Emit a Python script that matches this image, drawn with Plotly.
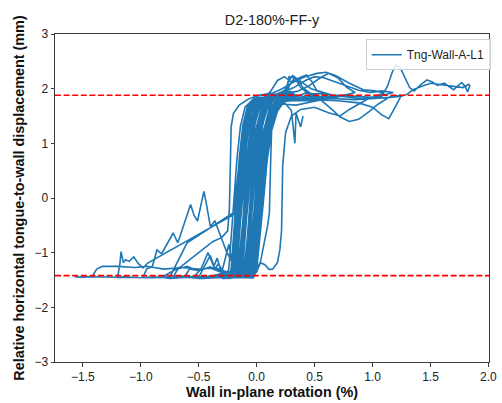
import plotly.graph_objects as go

# ---- data: wall in-plane rotation (%) vs relative tongue-to-wall displacement (mm) ----
seg_core_small = [
    (-0.05,-0.30),(-0.03,-0.90),(-0.05,-1.45),
    # c1
    (-0.02,-1.30),(0.01,-0.70),(0.04,0.0),(0.07,0.70),(0.11,1.25),(0.16,1.60),(0.23,1.80),(0.28,1.87),
    (0.12,1.82),(0.04,1.65),(0.0,1.30),(-0.03,0.70),(-0.055,0.0),(-0.08,-0.70),(-0.10,-1.30),(-0.13,-1.45),(-0.22,-1.46),(-0.28,-1.44),
    # c2
    (-0.03,-1.46),(0.0,-1.32),(0.03,-0.72),(0.06,-0.02),(0.09,0.68),(0.13,1.24),(0.18,1.59),(0.25,1.80),(0.30,1.86),
    (0.04,1.83),(-0.04,1.66),(-0.08,1.31),(-0.11,0.71),(-0.135,0.01),(-0.16,-0.69),(-0.18,-1.31),(-0.21,-1.45),(-0.27,-1.47),(-0.31,-1.45),
    # c3
    (-0.08,-1.44),(-0.05,-1.31),(-0.02,-0.71),(0.01,0.01),(0.04,0.71),(0.08,1.26),(0.13,1.61),(0.20,1.82),(0.25,1.92),(0.29,1.88),
    (0.16,1.83),(0.08,1.64),(0.04,1.29),(0.01,0.69),(-0.015,-0.01),(-0.04,-0.71),(-0.06,-1.31),(-0.09,-1.45),(-0.30,-1.46),(-0.36,-1.44),
    # c4
    (-0.045,-1.45),(-0.015,-1.33),(0.015,-0.73),(0.045,-0.03),(0.075,0.67),(0.115,1.23),(0.165,1.58),(0.235,1.80),(0.32,1.89),(0.35,1.86),
    (0.0,1.84),(-0.08,1.67),(-0.12,1.32),(-0.15,0.72),(-0.175,0.02),(-0.20,-0.68),(-0.22,-1.30),(-0.25,-1.46),(-0.30,-1.47),
    # c5
    (-0.12,-1.45),(-0.09,-1.31),(-0.06,-0.71),(-0.03,0.01),(0.0,0.71),(0.04,1.26),(0.09,1.62),(0.16,1.83),(0.22,1.95),(0.31,1.90),
    (0.10,1.82),(0.02,1.65),(-0.02,1.29),(-0.05,0.70),(-0.075,0.0),(-0.10,-0.70),(-0.12,-1.30),(-0.15,-1.44),(-0.32,-1.46),(-0.39,-1.44),
    # c6
    (-0.16,-1.43),(-0.13,-1.30),(-0.10,-0.69),(-0.07,0.01),(-0.04,0.72),(0.0,1.27),(0.05,1.62),(0.12,1.83),(0.20,1.90),(0.27,1.87),
    (0.19,1.82),(0.11,1.65),(0.07,1.30),(0.04,0.71),(0.015,0.01),(-0.01,-0.69),(-0.03,-1.31),(-0.06,-1.45),(-0.27,-1.46),(-0.34,-1.44),
    # c7
    (-0.06,-1.45),(-0.03,-1.33),(0.0,-0.73),(0.03,-0.02),(0.06,0.68),(0.10,1.24),(0.15,1.59),(0.22,1.80),(0.31,1.87),(0.37,1.86),
    (0.07,1.83),(-0.01,1.66),(-0.05,1.31),(-0.08,0.70),(-0.105,0.0),(-0.13,-0.70),(-0.15,-1.32),(-0.18,-1.45),(-0.24,-1.47),(-0.29,-1.45),
    # c8
    (-0.19,-1.44),(-0.16,-1.31),(-0.13,-0.70),(-0.10,0.0),(-0.07,0.70),(-0.03,1.25),(0.02,1.61),(0.09,1.82),(0.20,1.93),(0.30,1.90),
    (0.14,1.81),(0.06,1.64),(0.02,1.29),(-0.01,0.69),(-0.035,-0.01),(-0.06,-0.71),(-0.08,-1.31),(-0.11,-1.45),(-0.34,-1.45),(-0.42,-1.43),
    # c15
    (-0.09,-1.45),(-0.06,-1.31),(-0.03,-0.71),(0.0,0.0),(0.03,0.70),(0.07,1.25),(0.12,1.60),(0.19,1.81),(0.26,1.88),
    (0.09,1.82),(0.01,1.65),(-0.03,1.30),(-0.06,0.70),(-0.085,0.0),(-0.11,-0.70),(-0.13,-1.31),(-0.16,-1.45),(-0.25,-1.44),
    # c16
    (-0.21,-1.45),(-0.18,-1.31),(-0.15,-0.70),(-0.12,0.0),(-0.09,0.70),(-0.05,1.25),(0.0,1.60),(0.07,1.81),(0.15,1.88),(0.24,1.85),
    (0.21,1.83),(0.13,1.65),(0.09,1.30),(0.06,0.70),(0.035,0.0),(0.01,-0.70),(-0.01,-1.31),(-0.04,-1.45),(-0.20,-1.46),(-0.28,-1.44),
    # c17
    (-0.13,-1.45),(-0.10,-1.31),(-0.07,-0.70),(-0.04,0.0),(-0.01,0.70),(0.03,1.25),(0.08,1.60),(0.15,1.81),(0.24,1.87),
    (0.02,1.82),(-0.06,1.65),(-0.10,1.30),(-0.13,0.70),(-0.155,0.0),(-0.18,-0.70),(-0.20,-1.31),(-0.23,-1.45),(-0.30,-1.44),
    # c18
    (-0.055,-1.45),(-0.025,-1.31),(0.005,-0.70),(0.035,0.0),(0.065,0.70),(0.105,1.25),(0.155,1.60),(0.225,1.81),(0.33,1.86),
    (0.08,1.82),(0.0,1.65),(-0.04,1.30),(-0.07,0.70),(-0.095,0.0),(-0.12,-0.70),(-0.14,-1.31),(-0.17,-1.45),(-0.26,-1.46),
]

seg_core_medium = [
    # c9
    (-0.10,-1.45),(-0.07,-1.32),(-0.04,-0.72),(-0.01,-0.01),(0.02,0.69),(0.06,1.24),(0.11,1.60),(0.18,1.82),
    (0.25,2.0),(0.28,2.15),(0.31,2.24),(0.35,2.18),(0.40,2.02),(0.46,1.92),(0.52,1.88),(0.42,1.84),(0.30,1.82),
    (-0.02,1.83),(-0.10,1.66),(-0.14,1.31),(-0.17,0.71),(-0.195,0.01),(-0.22,-0.69),(-0.24,-1.30),(-0.27,-1.43),
    (-0.33,-1.20),(-0.36,-1.30),(-0.40,-1.05),(-0.45,-1.25),(-0.50,-1.45),(-0.55,-1.44),
    # c10
    (-0.45,-1.47),(-0.30,-1.38),(-0.20,-1.45),(-0.14,-1.45),
    (-0.11,-1.33),(-0.08,-0.73),(-0.05,-0.02),(-0.02,0.68),(0.02,1.24),(0.07,1.59),(0.14,1.81),
    (0.22,1.92),(0.29,1.95),(0.35,1.86),(0.42,1.92),(0.50,1.87),(0.57,1.85),(0.45,1.79),(0.30,1.80),
    (0.03,1.82),(-0.05,1.65),(-0.09,1.30),(-0.12,0.70),(-0.145,0.0),(-0.17,-0.70),(-0.19,-1.31),(-0.22,-1.44),
    (-0.32,-1.42),(-0.46,-1.46),(-0.56,-1.45),
    # c11
    (-0.42,-1.45),(-0.25,-1.43),(-0.04,-1.44),
    (-0.01,-1.30),(0.02,-0.70),(0.05,0.0),(0.08,0.70),(0.12,1.25),(0.17,1.60),(0.24,1.82),(0.26,2.05),(0.28,2.22),
    (0.33,2.20),(0.38,2.02),(0.45,1.90),(0.55,1.91),(0.61,1.86),(0.42,1.83),(0.28,1.82),
    (0.17,1.83),(0.09,1.66),(0.05,1.31),(0.02,0.71),(-0.005,0.01),(-0.03,-0.69),(-0.05,-1.31),(-0.08,-1.44),
    (-0.30,-1.40),(-0.34,-1.10),(-0.37,-1.25),(-0.42,-1.00),(-0.48,-1.30),(-0.55,-1.46),(-0.63,-1.44),
    # c12
    (-0.45,-1.45),(-0.26,-1.46),(-0.23,-1.45),
    (-0.20,-1.32),(-0.17,-0.71),(-0.14,-0.01),(-0.11,0.69),(-0.07,1.25),(-0.02,1.60),(0.05,1.81),(0.12,1.95),
    (0.18,2.15),(0.24,2.22),(0.30,2.12),(0.37,2.20),(0.43,2.25),(0.48,2.12),(0.52,1.96),(0.60,1.90),(0.67,1.88),
    (0.52,1.80),(0.35,1.78),
    (0.13,1.83),(0.05,1.66),(0.01,1.30),(-0.02,0.70),(-0.045,0.0),(-0.07,-0.70),(-0.09,-1.30),(-0.12,-1.44),
    (-0.32,-1.45),(-0.50,-1.47),(-0.62,-1.44),
    # c13
    (-0.58,-1.30),(-0.50,-1.33),(-0.40,-1.26),(-0.30,-1.35),(-0.26,-1.00),(-0.24,-0.85),(-0.22,-1.10),(-0.20,-1.30),
    (-0.10,-1.42),(-0.07,-1.44),
    (-0.04,-1.30),(-0.01,-0.70),(0.02,0.0),(0.05,0.70),(0.09,1.25),(0.14,1.60),(0.21,1.82),(0.27,2.0),(0.30,2.12),
    (0.33,2.21),(0.40,2.10),(0.47,2.0),(0.55,1.95),(0.62,1.90),(0.70,1.85),(0.52,1.78),(0.34,1.70),(0.22,1.72),
    (0.05,1.83),(-0.03,1.66),(-0.07,1.31),(-0.10,0.70),(-0.125,0.0),(-0.15,-0.70),(-0.17,-1.30),(-0.20,-1.43),
    (-0.45,-1.45),(-0.65,-1.43),(-0.72,-1.44),
    # c14
    (-0.68,-1.30),(-0.60,-1.25),(-0.52,-1.32),(-0.40,-1.28),(-0.30,-1.36),(-0.20,-1.38),(-0.17,-1.45),
    (-0.14,-1.31),(-0.11,-0.70),(-0.08,0.0),(-0.05,0.70),(-0.01,1.25),(0.04,1.60),(0.11,1.82),(0.20,1.90),
    (0.35,1.95),(0.45,2.05),(0.55,2.20),(0.62,2.28),(0.70,2.20),(0.78,2.02),(0.85,1.93),(0.70,1.85),(0.50,1.78),(0.32,1.80),
    (0.01,1.84),(-0.07,1.66),(-0.11,1.31),(-0.14,0.70),(-0.165,0.0),(-0.19,-0.70),(-0.21,-1.31),(-0.24,-1.44),
    (-0.40,-1.46),(-0.60,-1.45),(-0.75,-1.47),(-0.82,-1.45),
]

seg_outer_loop = [
    (-0.65,-1.25),(-0.50,-1.0),(-0.38,-0.80),(-0.30,-0.72),(-0.25,-0.60),(-0.235,-0.20),(-0.23,0.40),(-0.225,0.90),
    (-0.22,1.30),(-0.20,1.55),(-0.15,1.70),(-0.08,1.80),(0.0,1.87),(0.08,1.90),(0.14,1.92),(0.22,2.0),(0.30,2.10),
    (0.42,2.22),(0.52,2.28),(0.60,2.30),(0.68,2.24),(0.80,2.10),(0.92,1.98),(1.02,1.96),(1.10,1.92),
    (0.95,1.80),(0.80,1.62),(0.72,1.50),(0.62,1.56),(0.50,1.66),(0.38,1.62),(0.30,1.50),(0.25,1.20),(0.225,0.60),
    (0.22,-0.10),(0.215,-0.60),(0.20,-0.95),(0.18,-1.18),(0.14,-1.30),(0.11,-1.31),(0.07,-1.22),(0.03,-1.18),
    (0.0,-1.30),(-0.03,-1.42),(-0.10,-1.46),(-0.30,-1.45),(-0.55,-1.46),(-0.80,-1.44),(-0.98,-1.45),
]

seg_left_excursions = [
    # spiky branch
    (-0.95,-1.30),(-0.90,-1.25),(-0.86,-0.95),(-0.82,-1.02),(-0.76,-0.80),(-0.72,-0.64),(-0.68,-0.82),(-0.64,-0.58),
    (-0.60,-0.30),(-0.57,-0.12),(-0.54,-0.32),(-0.51,-0.42),(-0.48,-0.12),(-0.455,0.12),(-0.43,-0.15),(-0.40,-0.52),
    (-0.36,-0.42),(-0.31,-0.70),(-0.26,-0.98),(-0.21,-1.18),(-0.15,-1.28),(-0.10,-1.30),(-0.07,-1.18),(-0.05,-0.70),
    (-0.03,0.20),(-0.005,1.0),(0.035,1.45),(0.09,1.72),(0.16,1.86),(0.24,1.95),(0.32,2.02),(0.42,2.15),(0.50,2.22),
    (0.58,2.20),(0.68,2.12),(0.78,2.05),(0.88,1.97),(0.98,1.93),(1.08,1.96),(1.18,1.93),
    (1.05,1.86),(0.90,1.82),(0.72,1.86),(0.55,1.83),(0.38,1.80),(0.22,1.78),(0.14,1.70),(0.13,1.30),(0.12,0.60),
    (0.11,-0.27),(0.095,-0.5),(0.06,-0.9),(0.03,-1.20),(0.0,-1.35),(-0.04,-1.45),(-0.25,-1.44),(-0.50,-1.46),
    (-0.75,-1.45),(-1.00,-1.46),(-1.15,-1.44),(-1.20,-1.45),
    # noisy branch with straight jump
    (-1.18,-1.20),(-1.17,-0.98),(-1.15,-1.18),(-1.13,-1.13),(-1.10,-1.16),(-1.06,-1.08),(-1.02,-1.20),(-0.98,-1.28),
    (-0.94,-1.19),(-0.17,-0.27),(-0.12,0.40),(-0.09,1.10),(-0.05,1.55),(0.02,1.78),(0.10,1.88),(0.22,1.92),(0.40,1.86),
    (0.55,1.80),(0.65,1.62),(0.72,1.48),(0.80,1.40),(0.88,1.44),(0.97,1.58),(1.05,1.72),(1.15,1.85),(1.25,1.88),
    (1.20,1.68),(1.14,1.45),(1.08,1.52),(1.00,1.66),(0.88,1.74),(0.70,1.78),(0.50,1.80),(0.30,1.78),(0.15,1.74),
    (0.09,1.40),(0.06,0.70),(0.04,-0.20),(0.02,-0.90),(-0.01,-1.30),(-0.05,-1.44),(-0.30,-1.46),(-0.60,-1.44),
    (-0.90,-1.46),(-1.20,-1.45),(-1.40,-1.43),(-1.48,-1.44),
]

seg_full_cycle = [
    (-1.53,-1.45),(-1.57,-1.44),(-1.50,-1.45),(-1.42,-1.44),(-1.38,-1.30),(-1.33,-1.25),(-1.20,-1.25),(-1.05,-1.27),
    (-0.95,-1.25),(-0.80,-1.30),(-0.65,-1.27),(-0.50,-1.30),(-0.35,-1.28),(-0.25,-1.36),(-0.16,-1.30),(-0.13,-0.90),
    (-0.11,-0.20),(-0.09,0.60),(-0.06,1.20),(-0.02,1.58),(0.04,1.80),(0.12,1.90),(0.25,1.86),(0.40,1.80),(0.55,1.84),
    (0.70,1.88),(0.85,1.86),(1.00,1.84),(1.08,1.86),(1.13,2.05),(1.17,2.30),(1.20,2.43),(1.24,2.38),(1.28,2.20),
    (1.32,2.02),(1.36,1.96),(1.42,2.08),(1.47,2.16),(1.52,2.12),(1.56,2.06),(1.62,2.10),(1.66,2.04),(1.70,1.98),
    (1.74,2.06),(1.77,2.11),(1.80,2.04),(1.82,1.94),(1.84,2.05),(1.83,2.08),(1.78,2.02),(1.70,2.04),(1.60,2.07),
    (1.50,2.10),(1.42,2.04),(1.35,1.98),(1.30,1.90),(1.25,1.86),(1.15,1.84),(1.00,1.82),(0.85,1.80),(0.65,1.82),
    (0.45,1.78),(0.25,1.80),(0.12,1.82),(0.05,1.60),(0.01,1.0),(-0.01,0.0),(-0.03,-0.8),(-0.06,-1.30),(-0.10,-1.44),
    (-0.30,-1.45),(-0.45,-1.44),(-0.75,-1.45),
    # last partial cycle
    (-0.68,-1.15),(-0.60,-0.82),(-0.20,-0.27),(-0.16,0.50),(-0.12,1.20),(-0.07,1.60),(0.0,1.80),(0.10,1.86),
    (0.20,1.84),(0.30,1.60),(0.33,1.00),(0.34,1.55),(0.38,1.30),(0.40,1.50),
]

upper_limit = 1.88
lower_limit = -1.42

x_ticks = [-1.5, -1.0, -0.5, 0.0, 0.5, 1.0, 1.5, 2.0]
y_ticks = [-3, -2, -1, 0, 1, 2, 3]

series_name = "Tng-Wall-A-L1"
title_text = "D2-180%-FF-y"
x_label = "Wall in-plane rotation (%)"
y_label = "Relative horizontal tongue-to-wall displacement (mm)"

# ---- build figure ----
segments = [seg_core_small, seg_core_medium, seg_outer_loop, seg_left_excursions, seg_full_cycle]
rot = [p[0] for s in segments for p in s]
disp = [p[1] for s in segments for p in s]

FONT = "Liberation Sans, Arial, sans-serif"
AX = "#3a3a3a"

fig = go.Figure()
fig.add_trace(go.Scatter(
    x=rot, y=disp, mode="lines", name=series_name,
    line=dict(color="#1f77b4", width=1.6), showlegend=True,
))
for yv in (upper_limit, lower_limit):
    fig.add_shape(type="line", xref="paper", x0=0, x1=1, yref="y", y0=yv, y1=yv,
                  line=dict(color="red", width=1.6, dash="6px,2.6px"), layer="above")

fig.update_layout(
    width=502, height=403,
    margin=dict(l=55, r=5, t=34, b=40),
    paper_bgcolor="white", plot_bgcolor="white",
    font=dict(family=FONT, size=12, color="#222"),
    title=dict(text=title_text, x=0.5, xref="paper", y=1 - 20 / 403, yanchor="middle",
               font=dict(size=14.4, color="#222")),
    showlegend=True,
    legend=dict(x=1.004, y=0.984, xanchor="right", yanchor="top",
                bgcolor="rgba(255,255,255,0.85)", bordercolor="#cfcfcf", borderwidth=1,
                font=dict(size=12, color="#222"), itemwidth=30),
)
fig.update_xaxes(
    range=[-1.74, 2.005], tickvals=x_ticks, tickformat=".1f",
    showgrid=False, zeroline=False, showline=True, linecolor=AX, linewidth=1, mirror=True,
    ticks="outside", ticklen=3.5, tickwidth=1, tickcolor=AX, ticklabeloverflow="allow",
    title=dict(text="<b>" + x_label + "</b>", font=dict(size=14.4, color="#111"), standoff=4),
)
fig.update_yaxes(
    range=[-3, 3], tickvals=y_ticks,
    showgrid=False, zeroline=False, showline=True, linecolor=AX, linewidth=1, mirror=True,
    ticks="outside", ticklen=3.5, tickwidth=1, tickcolor=AX,
    title=dict(text="<b>" + y_label + "</b>", font=dict(size=14.4, color="#111"), standoff=6),
)

fig.write_html("out.html")
